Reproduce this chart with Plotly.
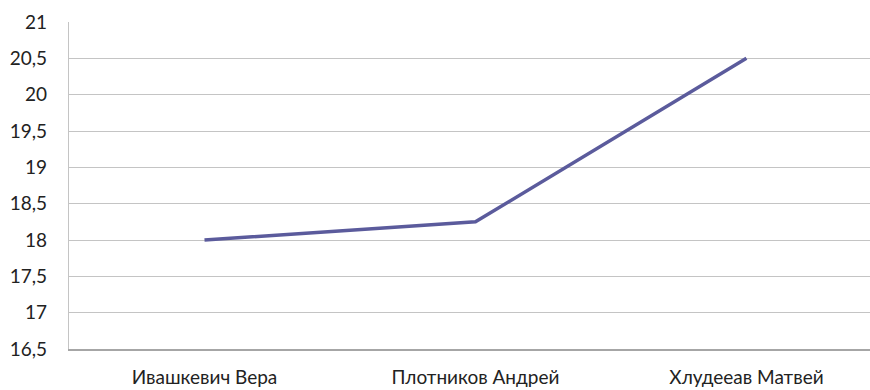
import plotly.graph_objects as go

# Category labels and values
students = ["Ивашкевич Вера", "Плотников Андрей", "Хлудееав Матвей"]
scores = [18, 18.25, 20.5]

y_ticks = [16.5, 17, 17.5, 18, 18.5, 19, 19.5, 20, 20.5, 21]
y_labels = [str(v).replace(".", ",") for v in y_ticks]

fig = go.Figure()
fig.add_trace(go.Scatter(
    x=students, y=scores, mode="lines",
    line=dict(color="#5b5b9c", width=3.5),
    hoverinfo="skip",
))

fig.update_layout(
    width=870, height=390,
    margin=dict(l=69, r=0, t=22, b=41),
    paper_bgcolor="white", plot_bgcolor="white",
    showlegend=False,
    font=dict(family="Lato, 'Open Sans', sans-serif", size=19, color="#222222"),
    xaxis=dict(
        type="category",
        range=[-0.5, 2.456],
        showgrid=False,
        showline=True, linecolor="#a6a6a6", linewidth=1.5,
        ticks="", ticklabelstandoff=10,
    ),
    yaxis=dict(
        range=[16.5, 21],
        tickvals=y_ticks, ticktext=y_labels,
        showgrid=True, gridcolor="#c4c4c4", gridwidth=1.2,
        showline=True, linecolor="#c4c4c4", linewidth=1.2,
        zeroline=False, ticks="", ticklabelstandoff=17,
    ),
)

fig.write_html("out.html")
